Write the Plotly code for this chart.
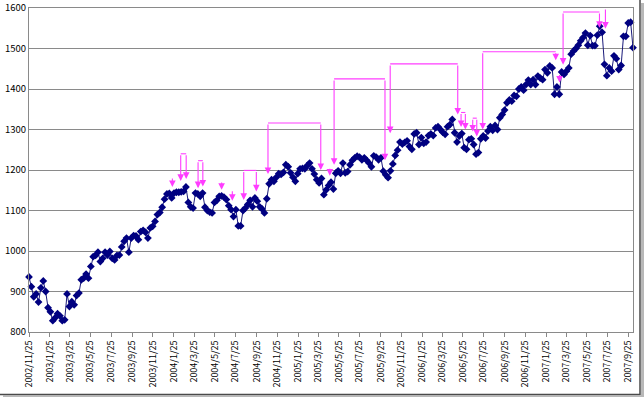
import pandas as pd
import plotly.graph_objects as go

# ---- data (weekly closes) ----
start_date = "2002-11-25"
values = [
    936, 912, 887, 894, 874, 909, 926, 900, 860, 850,
    828, 835, 845, 840, 828, 830, 894, 863, 875, 867,
    890, 896, 929, 933, 943, 933, 962, 986, 989, 997,
    974, 982, 997, 990, 999, 982, 978, 989, 990, 1010,
    1024, 1032, 997, 1032, 1038, 1037, 1028, 1048, 1051, 1046,
    1032, 1057, 1061, 1073, 1090, 1095, 1108, 1128, 1141, 1142,
    1131, 1143, 1145, 1145, 1146, 1147, 1158, 1120, 1109, 1106,
    1143, 1141, 1135, 1143, 1108, 1100, 1096, 1094, 1120, 1125,
    1135, 1136, 1133, 1127, 1112, 1102, 1085, 1102, 1062, 1062,
    1100, 1106, 1115, 1125, 1109, 1131, 1123, 1109, 1104, 1094,
    1129, 1166, 1176, 1172, 1182, 1191, 1189, 1194, 1213, 1208,
    1193, 1182, 1172, 1191, 1203, 1204, 1203, 1211, 1217, 1203,
    1190, 1176, 1168, 1179, 1139, 1151, 1162, 1170, 1153, 1192,
    1198, 1192, 1217, 1193, 1196, 1213, 1224, 1230, 1234, 1232,
    1225, 1230, 1224, 1217, 1208, 1235, 1232, 1225, 1230, 1197,
    1188, 1181, 1198, 1215, 1236, 1249, 1269, 1264, 1268, 1272,
    1258, 1251, 1289, 1292, 1263, 1280, 1266, 1269, 1285, 1289,
    1285, 1304, 1307, 1300, 1293, 1288, 1307, 1312, 1325, 1292,
    1269, 1284, 1290, 1255, 1251, 1275, 1277, 1263, 1239, 1243,
    1277, 1284, 1279, 1296, 1307, 1298, 1310, 1300, 1329, 1337,
    1348, 1366, 1373, 1370, 1384, 1382, 1400, 1405, 1397, 1411,
    1422, 1411, 1423, 1411, 1432, 1427, 1423, 1448, 1440, 1457,
    1452, 1387, 1405, 1387, 1442, 1436, 1444, 1452, 1486, 1494,
    1500, 1508, 1519, 1527, 1538, 1508, 1532, 1507, 1507, 1533,
    1555, 1540, 1461, 1433, 1452, 1444, 1482, 1475, 1448, 1458,
    1530, 1530, 1563, 1565, 1502,
]

tick_dates = [
    "2002-11-25", "2003-01-25", "2003-03-25", "2003-05-25", "2003-07-25",
    "2003-09-25", "2003-11-25", "2004-01-25", "2004-03-25", "2004-05-25",
    "2004-07-25", "2004-09-25", "2004-11-25", "2005-01-25", "2005-03-25",
    "2005-05-25", "2005-07-25", "2005-09-25", "2005-11-25", "2006-01-25",
    "2006-03-25", "2006-05-25", "2006-07-25", "2006-09-25", "2006-11-25",
    "2007-01-25", "2007-03-25", "2007-05-25", "2007-07-25", "2007-09-25",
]
tick_labels = [
    "2002/11/25", "2003/1/25", "2003/3/25", "2003/5/25", "2003/7/25",
    "2003/9/25", "2003/11/25", "2004/1/25", "2004/3/25", "2004/5/25",
    "2004/7/25", "2004/9/25", "2004/11/25", "2005/1/25", "2005/3/25",
    "2005/5/25", "2005/7/25", "2005/9/25", "2005/11/25", "2006/1/25",
    "2006/3/25", "2006/5/25", "2006/7/25", "2006/9/25", "2006/11/25",
    "2007/1/25", "2007/3/25", "2007/5/25", "2007/7/25", "2007/9/25",
]

# magenta single arrows: position (weeks from start), tail value, tip value
arrow_week = [60.3, 81.0, 85.5, 126.5, 223.1, 242.4]
arrow_top = [1183, 1173, 1151, 1207, 1438, 1600]
arrow_tip = [1158, 1151, 1124, 1186, 1416, 1549]

# magenta brackets: left week, right week, top value, left tip, right tip
br_left = [63.8, 71.1, 90.3, 100.5, 128.3, 151.9, 181.7, 186.6, 190.8, 224.6]
br_right = [66.1, 73.1, 95.6, 122.7, 149.7, 180.3, 183.5, 188.3, 221.5, 239.9]
br_top = [1240, 1223, 1199, 1316, 1425, 1462, 1342, 1328, 1492, 1590]
br_tip_l = [1173, 1155, 1126, 1190, 1213, 1291, 1306, 1295, 1300, 1460]
br_tip_r = [1178, 1159, 1147, 1200, 1224, 1337, 1300, 1283, 1471, 1551]

# ---- build ----
t0 = pd.Timestamp(start_date)
dates = [t0 + pd.Timedelta(days=7 * i) for i in range(len(values))]


def wdate(w):
    return (t0 + pd.Timedelta(days=7 * w)).strftime("%Y-%m-%d %H:%M:%S")


MAG = "#FF3CFF"
fig = go.Figure()
fig.add_trace(go.Scatter(
    x=dates, y=values, mode="lines+markers",
    line=dict(color="#1a1a7a", width=1),
    marker=dict(symbol="diamond", size=6, color="#000080"),
    showlegend=False, hoverinfo="skip", cliponaxis=False,
))

annotations = []
shapes = []


def add_arrow(w, ytop, ytip):
    annotations.append(dict(
        x=wdate(w), y=ytip, ax=wdate(w), ay=ytop, xref="x", yref="y",
        axref="x", ayref="y", text="", showarrow=True, arrowhead=2,
        arrowsize=1.2, arrowwidth=1.1, arrowcolor=MAG, standoff=0,
    ))


for w, a, b in zip(arrow_week, arrow_top, arrow_tip):
    add_arrow(w, a, b)

for wl, wr, top, tl, tr in zip(br_left, br_right, br_top, br_tip_l, br_tip_r):
    shapes.append(dict(type="line", xref="x", yref="y", x0=wdate(wl), x1=wdate(wr),
                       y0=top, y1=top, line=dict(color=MAG, width=1.1)))
    add_arrow(wl, top, tl)
    add_arrow(wr, top, tr)

# chart outer frame with shadow (pixel -> paper conversion)
L, R, T, B, W, H = 29, 11, 8, 65, 644, 397
pw, ph = W - L - R, H - T - B


def px(x):
    return (x - L) / pw


def py(y):
    return (H - B - y) / ph


shapes.append(dict(type="rect", xref="paper", yref="paper", x0=px(641), x1=px(644),
                   y0=py(397), y1=py(3), fillcolor="#b8b8b8", line=dict(width=0), layer="above"))
shapes.append(dict(type="rect", xref="paper", yref="paper", x0=px(3), x1=px(644),
                   y0=py(397), y1=py(395.5), fillcolor="#b8b8b8", line=dict(width=0), layer="above"))
shapes.append(dict(type="rect", xref="paper", yref="paper", x0=px(-3), x1=px(640),
                   y0=py(394.5), y1=py(-3), fillcolor="rgba(0,0,0,0)",
                   line=dict(color="#4a4a4a", width=1.5), layer="above"))

fig.update_layout(
    width=W, height=H,
    margin=dict(l=L, r=R, t=T, b=B, autoexpand=False),
    paper_bgcolor="white", plot_bgcolor="white",
    font=dict(family="Noto Sans CJK JP, Liberation Sans, sans-serif", size=10, color="black"),
    shapes=shapes, annotations=annotations,
    showlegend=False,
)
fig.update_xaxes(
    type="date", range=[dates[0], dates[-1]], automargin=False,
    tickmode="array", tickvals=tick_dates, ticktext=tick_labels,
    tickangle=-90, tickfont=dict(size=9),
    ticks="outside", ticklen=4, tickcolor="#888888",
    showgrid=False, showline=True, linecolor="#8a8a8a", linewidth=1, mirror=True,
    zeroline=False,
)
fig.update_yaxes(
    range=[800, 1600], dtick=100, tick0=800, automargin=False,
    showgrid=True, gridcolor="#8a8a8a", gridwidth=1,
    showline=True, linecolor="#8a8a8a", linewidth=1, mirror=True,
    ticks="", tickfont=dict(size=9.5), zeroline=False,
)

fig.write_html(
    "out.html",
    config={"displayModeBar": False, "staticPlot": True},
    post_script="document.body.style.margin='0';document.body.style.overflow='hidden';",
)
